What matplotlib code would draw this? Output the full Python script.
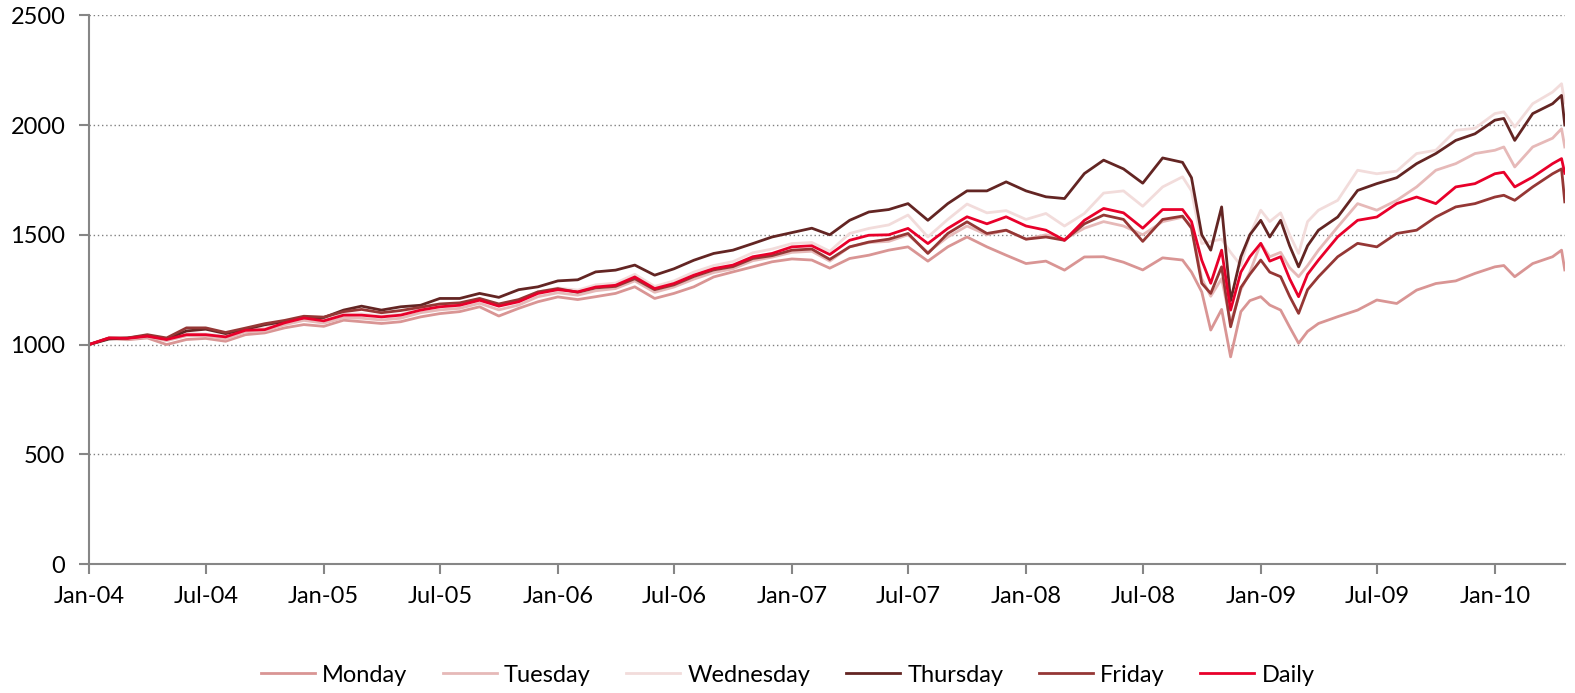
import pandas as pd
import matplotlib.pyplot as plt
import matplotlib.dates as mdates

plt.rcParams['font.family'] = ['Lato', 'DejaVu Sans']

# dates: monthly, half-monthly through the 2008/09 crash, then monthly again
dates = list(pd.date_range('2004-01-01', '2008-09-01', freq='MS'))
dates += list(pd.to_datetime(['2008-09-15', '2008-10-01', '2008-10-15', '2008-11-01', '2008-11-15',
                              '2008-12-01', '2008-12-15', '2009-01-01', '2009-01-15', '2009-02-01',
                              '2009-02-15', '2009-03-01', '2009-03-15']))
dates += list(pd.date_range('2009-04-01', '2010-01-01', freq='MS'))
dates += list(pd.to_datetime(['2010-01-15', '2010-02-01', '2010-03-01', '2010-04-01',
                              '2010-04-15', '2010-04-20']))

monday = [1000, 1028, 1022, 1030, 1000, 1023, 1028, 1015, 1045, 1053, 1076, 1091,
          1083, 1111, 1104, 1096, 1104, 1126, 1141, 1150, 1172, 1130, 1165, 1195,
          1217, 1205, 1218, 1233, 1263, 1210, 1233, 1263, 1308, 1331, 1354, 1377,
          1390, 1385, 1348, 1392, 1407, 1430, 1445, 1380, 1445, 1490, 1445, 1407,
          1369, 1380, 1339, 1399, 1400, 1375, 1340, 1395, 1385,
          1330, 1240, 1066, 1160, 944, 1150, 1200, 1218, 1180, 1157, 1080, 1006, 1060,
          1096, 1127, 1157, 1203, 1187, 1248, 1278, 1290, 1324, 1354,
          1360, 1309, 1369, 1400, 1430, 1340]

tuesday = [1000, 1028, 1025, 1035, 1018, 1040, 1040, 1025, 1058, 1062, 1090, 1110,
           1098, 1122, 1120, 1112, 1120, 1145, 1158, 1165, 1188, 1158, 1180, 1218,
           1236, 1225, 1245, 1255, 1290, 1238, 1262, 1298, 1328, 1345, 1382, 1398,
           1420, 1425, 1380, 1445, 1465, 1470, 1500, 1420, 1490, 1540, 1500, 1520,
           1480, 1500, 1480, 1530, 1560, 1540, 1500, 1560, 1580,
           1540, 1300, 1220, 1300, 1100, 1250, 1330, 1461, 1400, 1420, 1350, 1309, 1360,
           1430, 1536, 1642, 1612, 1657, 1718, 1794, 1824, 1870, 1885,
           1900, 1809, 1900, 1940, 1983, 1900]

wednesday = [1000, 1030, 1028, 1040, 1025, 1050, 1048, 1038, 1068, 1075, 1102, 1122,
             1112, 1138, 1140, 1130, 1138, 1162, 1178, 1185, 1208, 1182, 1202, 1240,
             1258, 1248, 1272, 1280, 1320, 1265, 1290, 1330, 1360, 1378, 1418, 1435,
             1460, 1465, 1425, 1506, 1529, 1545, 1590, 1490, 1570, 1640, 1600, 1610,
             1570, 1597, 1540, 1597, 1690, 1700, 1630, 1718, 1764,
             1700, 1460, 1470, 1480, 1420, 1360, 1500, 1612, 1560, 1600, 1500, 1415, 1560,
             1612, 1657, 1794, 1778, 1790, 1870, 1885, 1976, 1985, 2052,
             2060, 1991, 2097, 2150, 2188, 2100]

thursday = [1000, 1025, 1030, 1040, 1025, 1062, 1070, 1050, 1070, 1090, 1105, 1122,
            1123, 1157, 1175, 1157, 1172, 1179, 1210, 1210, 1233, 1215, 1250, 1263,
            1290, 1295, 1331, 1339, 1362, 1316, 1345, 1384, 1415, 1430, 1460, 1490,
            1510, 1530, 1500, 1566, 1604, 1615, 1642, 1566, 1642, 1700, 1700, 1741,
            1700, 1673, 1665, 1779, 1840, 1800, 1735, 1850, 1830,
            1760, 1500, 1430, 1627, 1200, 1400, 1500, 1566, 1490, 1566, 1450, 1354, 1450,
            1521, 1581, 1702, 1733, 1760, 1824, 1870, 1930, 1960, 2022,
            2030, 1930, 2052, 2097, 2135, 2000]

friday = [1000, 1030, 1030, 1045, 1030, 1076, 1076, 1055, 1075, 1095, 1110, 1129,
          1125, 1150, 1160, 1145, 1155, 1170, 1185, 1190, 1210, 1185, 1205, 1240,
          1255, 1238, 1258, 1265, 1300, 1250, 1272, 1310, 1340, 1355, 1392, 1405,
          1430, 1435, 1388, 1445, 1467, 1480, 1506, 1415, 1506, 1559, 1506, 1521,
          1480, 1490, 1475, 1550, 1590, 1570, 1470, 1570, 1585,
          1530, 1279, 1233, 1354, 1081, 1260, 1320, 1385, 1330, 1309, 1220, 1142, 1250,
          1309, 1400, 1461, 1445, 1506, 1521, 1581, 1627, 1642, 1672,
          1680, 1657, 1718, 1778, 1800, 1650]

daily = [1000, 1030, 1028, 1038, 1023, 1045, 1045, 1035, 1065, 1068, 1099, 1121,
         1108, 1134, 1134, 1126, 1134, 1157, 1172, 1179, 1202, 1175, 1195, 1233,
         1250, 1240, 1262, 1270, 1308, 1255, 1278, 1316, 1346, 1362, 1400, 1415,
         1445, 1450, 1410, 1475, 1498, 1500, 1529, 1460, 1529, 1582, 1550, 1582,
         1540, 1521, 1475, 1566, 1620, 1600, 1530, 1615, 1615,
         1560, 1384, 1279, 1430, 1157, 1330, 1400, 1461, 1380, 1400, 1300, 1218, 1320,
         1385, 1491, 1566, 1581, 1642, 1672, 1642, 1718, 1733, 1778,
         1785, 1718, 1763, 1824, 1847, 1780]

series = [('Monday', monday, '#D99594'),
          ('Tuesday', tuesday, '#E6B9B8'),
          ('Wednesday', wednesday, '#F2DCDB'),
          ('Thursday', thursday, '#632523'),
          ('Friday', friday, '#953735'),
          ('Daily', daily, '#E8002A')]

fig = plt.figure(figsize=(15.75, 6.93), dpi=100)
ax = fig.add_axes([0.0565, 0.186, 0.937, 0.792])

for name, vals, col in series:
    ax.plot(dates, vals, color=col, lw=2, label=name)

ax.set_ylim(0, 2500)
ax.set_yticks(range(0, 2501, 500))
ax.set_xlim(pd.Timestamp('2004-01-01'), pd.Timestamp('2010-04-20'))
ax.xaxis.set_major_locator(mdates.MonthLocator(bymonth=[1, 7]))
ax.xaxis.set_major_formatter(mdates.DateFormatter('%b-%y'))

ax.grid(axis='y', color='#808080', linestyle=(0, (1, 2)), lw=1)
ax.set_axisbelow(True)
for s in ['top', 'right']:
    ax.spines[s].set_visible(False)
for s in ['left', 'bottom']:
    ax.spines[s].set_color('#868686')
    ax.spines[s].set_linewidth(1.5)
ax.tick_params(colors='#868686', length=7, width=1.5, labelsize=17, labelcolor='black')
ax.tick_params(axis='y', pad=10)
ax.tick_params(axis='x', pad=9)

fig.legend(loc='lower center', bbox_to_anchor=(0.5, -0.02), ncol=6, frameon=False,
           fontsize=17, handlelength=2.3, handletextpad=0.3, columnspacing=1.5)

fig.savefig('out.png', dpi=100)
